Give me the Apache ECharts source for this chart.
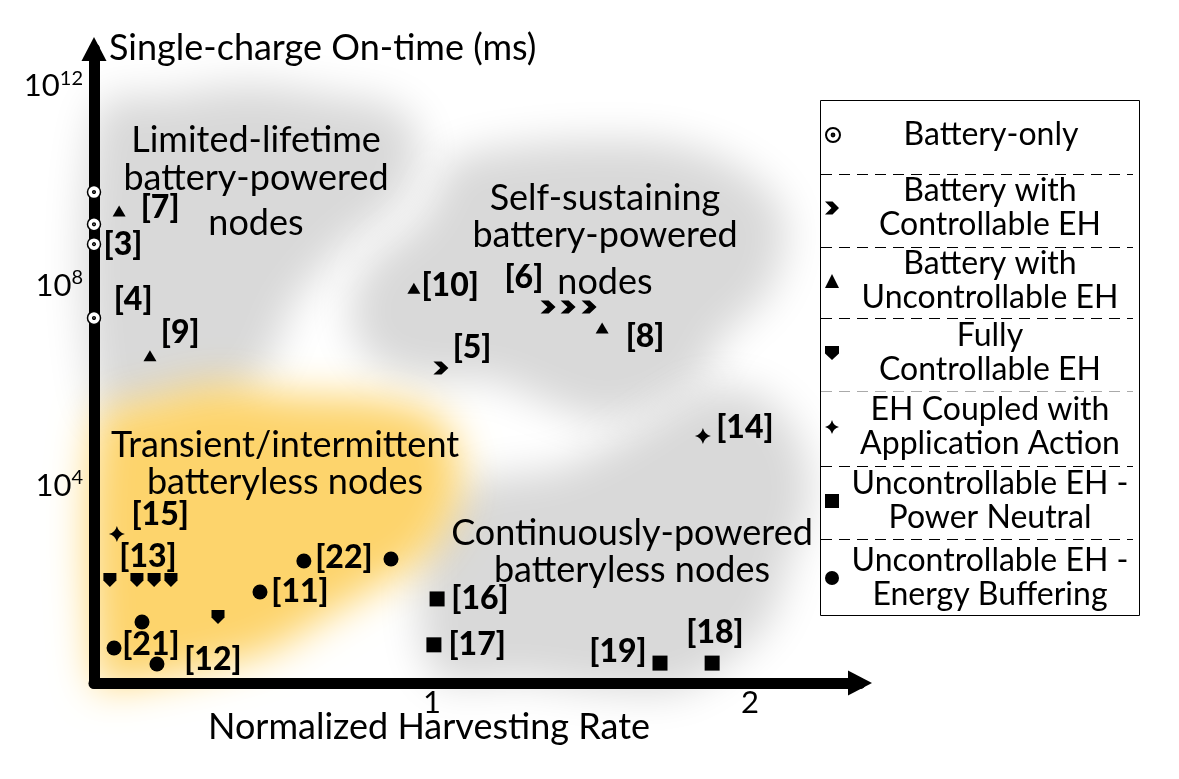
<!DOCTYPE html>
<html><head><meta charset="utf-8">
<script src="https://cdn.jsdelivr.net/npm/echarts@6/dist/echarts.min.js"></script>
<style>html,body{margin:0;padding:0;background:#fff}#c{width:1179px;height:779px}</style>
</head><body><div id="c"></div>
<script>
// ---------- data ----------
const seriesNames = ['Battery-only', 'Battery with Controllable EH', 'Battery with Uncontrollable EH',
  'Fully Controllable EH', 'EH Coupled with Application Action',
  'Uncontrollable EH - Power Neutral', 'Uncontrollable EH - Energy Buffering'];
const legendLines = [['Battery-only'], ['Battery with', 'Controllable EH'], ['Battery with', 'Uncontrollable EH'],
  ['Fully', 'Controllable EH'], ['EH Coupled with', 'Application Action'],
  ['Uncontrollable EH -', 'Power Neutral'], ['Uncontrollable EH -', 'Energy Buffering']];

const batteryOnlyX = [-0.063, -0.063, -0.063, -0.063];
const batteryOnlyY = [6.6e9, 1.5e9, 6.0e8, 2.0e7];
const ctrlEhX = [1.028, 1.365, 1.428, 1.494];
const ctrlEhY = [2e6, 3.3e7, 3.3e7, 3.3e7];
const unctrlEhX = [0.016, 0.113, 0.943, 1.535];
const unctrlEhY = [2.75e9, 3.5e6, 7.9e7, 1.26e7];
const fullyCtrlX = [-0.013, 0.072, 0.126, 0.179, 0.327];
const fullyCtrlY = [115, 115, 115, 115, 21];
const coupledX = [0.009, 1.852];
const coupledY = [955, 8.7e4];
const neutralX = [1.016, 1.006, 1.717, 1.881];
const neutralY = [48, 5.8, 2.5, 2.5];
const bufferX = [0.088, 0.0, 0.135, 0.459, 0.597, 0.871];
const bufferY = [16.6, 5, 2.4, 66, 275, 302];

const citeLabels = ['[7]', '[3]', '[4]', '[9]', '[10]', '[6]', '[8]', '[5]', '[14]', '[15]', '[13]', '[21]', '[12]', '[11]', '[22]', '[16]', '[17]', '[19]', '[18]'];
const citeX = [0.145, 0.028, 0.06, 0.208, 1.057, 1.289, 1.67, 1.126, 1.984, 0.145, 0.107, 0.116, 0.311, 0.585, 0.723, 1.151, 1.142, 1.585, 1.89];
const citeY = [3.2e9, 5.8e8, 4.6e7, 1e7, 8.7e7, 1.26e8, 8.3e6, 5e6, 1.3e5, 2300, 330, 5.8, 2.9, 66, 316, 48, 5.8, 4.2, 10];

const xTickValues = [1, 2];
const yTickValues = [1e4, 1e8, 1e12];

// shaded regions: [x, log10(on-time)] outlines
const regionLimited = [[-0.053, 11.46], [0.176, 11.76], [0.428, 11.96], [0.679, 11.76], [0.899, 11.46], [0.962, 10.66], [0.899, 9.66], [0.742, 8.86], [0.648, 8.26], [0.553, 7.46], [0.491, 6.46], [0.365, 5.66], [0.145, 5.36], [-0.053, 5.46]];
const regionSelf = [[1.057, 10.46], [1.277, 10.76], [1.528, 10.86], [1.78, 10.76], [2.0, 10.16], [2.11, 9.26], [2.063, 7.86], [1.906, 6.86], [1.843, 6.06], [1.686, 5.46], [1.528, 5.26], [1.34, 5.66], [1.182, 6.06], [0.994, 6.06], [0.805, 6.46], [0.742, 7.46], [0.805, 8.46], [0.962, 9.26], [1.025, 10.06]];
const regionContinuous = [[0.994, 3.26], [1.151, 4.06], [1.371, 4.26], [1.528, 4.66], [1.686, 5.26], [1.843, 5.86], [2.031, 5.76], [2.157, 4.86], [2.189, 3.66], [2.126, 2.46], [2.063, 1.26], [1.937, 0.46], [1.78, -0.14], [1.528, -0.14], [1.277, 0.06], [1.025, 0.06], [0.962, 1.26]];
const regionTransient = [[-0.053, 5.26], [0.113, 5.66], [0.333, 5.96], [0.553, 5.76], [0.836, 5.66], [1.025, 5.26], [1.088, 4.26], [1.057, 3.26], [0.962, 2.46], [0.805, 1.86], [0.648, 1.26], [0.491, 0.66], [0.27, 0.26], [0.019, -0.04], [-0.053, -0.04]];
const regions = [regionLimited, regionSelf, regionContinuous, regionTransient];
const regionColors = ['#d9d9d9', '#d9d9d9', '#d9d9d9', '#fdd46c'];

const regionText = ['Limited-lifetime', 'battery-powered', 'nodes', 'Self-sustaining', 'battery-powered', 'nodes',
  'Transient/intermittent', 'batteryless nodes', 'Continuously-powered', 'batteryless nodes'];

// ---------- styling ----------
const FONT = 'Lato';
const OFF = 3000;
const regionTextPos = [[256, 140], [256, 178], [256, 223], [605, 198], [605, 235], [605, 282], [285, 445], [285, 482], [632, 533], [632, 570]];
const legendCenters = [136, 209, 282, 354, 428, 502, 579];
const symbols = [
  'path://M0,-10A10,10 0 1,1 0,10A10,10 0 1,1 0,-10Z M0,-2A2,2 0 1,1 0,2A2,2 0 1,1 0,-2Z',
  'path://M0,0L7,0L13,6L7,12L0,12L6,6Z',
  'triangle',
  'path://M0,0L12,0L12,6.5L6,12L0,6.5Z',
  'path://M6,0Q7.2,4.8 12,6Q7.2,7.2 6,12Q4.8,7.2 0,6Q4.8,4.8 6,0Z',
  'rect',
  'circle'
];
const symbolSizes = [13, [15, 13], [13, 11], [13, 14], 16, 15, 15];
const xs = [batteryOnlyX, ctrlEhX, unctrlEhX, fullyCtrlX, coupledX, neutralX, bufferX];
const ys = [batteryOnlyY, ctrlEhY, unctrlEhY, fullyCtrlY, coupledY, neutralY, bufferY];

const series = [{
  type: 'custom', coordinateSystem: 'cartesian2d', z: 0, silent: true, clip: false,
  data: regions.map(() => [1, 10]),
  renderItem: function (params, api) {
    const i = params.dataIndex;
    const pts = regions[i].map(p => { const c = api.coord([p[0], Math.pow(10, p[1])]); return [c[0] - OFF, c[1]]; });
    return { type: 'polygon', shape: { points: pts, smooth: 0.35 },
      style: { fill: regionColors[i], shadowBlur: 40, shadowColor: regionColors[i], shadowOffsetX: OFF, shadowOffsetY: 0 } };
  }
}];
seriesNames.forEach((n, i) => {
  series.push({
    type: 'scatter', name: n, z: 3, clip: false,
    symbol: symbols[i], symbolSize: symbolSizes[i],
    itemStyle: i === 0 ? { color: '#fff', borderColor: '#000', borderWidth: 1.5, opacity: 1 } : { color: '#000', opacity: 1 },
    data: xs[i].map((x, k) => [x, ys[i][k]])
  });
});
series.push({
  type: 'scatter', name: 'cites', z: 4, clip: false, silent: true,
  symbol: 'circle', symbolSize: 0.1, itemStyle: { color: '#000' },
  label: { show: true, position: 'inside', formatter: p => p.name, fontFamily: FONT, fontWeight: 900, fontSize: 32, color: '#000', textBorderWidth: 0, opacity: 1 },
  data: citeLabels.map((l, k) => ({ name: l, value: [citeX[k], citeY[k]] }))
});

const legends = seriesNames.map((n, i) => ({
  data: [n], orient: 'vertical', left: 825, top: legendCenters[i] - legendLines[i].length * 17,
  padding: 0, itemWidth: 14, itemHeight: 14, itemGap: 0, selectedMode: false, z: 6,
  formatter: () => legendLines[i].map(l => '{t|' + l + '}').join('\n'),
  textStyle: { fontFamily: FONT, fontSize: 32, color: '#000',
    rich: { t: { width: 292, align: 'center', fontFamily: FONT, fontSize: 32, lineHeight: 34, color: '#000' } } }
}));

const sepY = [174, 247, 318, 391, 466, 539];
const graphic = [
  { type: 'rect', z: 5, shape: { x: 820.5, y: 100.5, width: 319, height: 515 }, style: { fill: '#fff', stroke: '#000', lineWidth: 1 } }
].concat(sepY.map((y, k) => ({
  type: 'line', z: 5, shape: { x1: 821, y1: y + 0.5, x2: 1133, y2: y + 0.5 },
  style: { stroke: k === 3 ? '#aaa' : '#000', lineWidth: 1, lineDash: [11, 7] }
}))).concat(regionText.map((t, k) => ({
  type: 'text', z: 2, x: regionTextPos[k][0], y: regionTextPos[k][1],
  style: { text: t, font: '36px ' + FONT, fill: '#000', align: 'center', verticalAlign: 'middle' }
})));

const option = {
  animation: false,
  backgroundColor: '#fff',
  grid: { left: 94, top: 49, width: 766, height: 634, containLabel: false },
  xAxis: {
    type: 'value', min: -0.063, max: 2.346, z: 1,
    name: 'Normalized Harvesting Rate', nameLocation: 'middle', nameGap: 26, nameMoveOverlap: false,
    nameTextStyle: { fontFamily: FONT, fontSize: 36, color: '#000', padding: [0, 96, 0, 0] },
    axisLine: { show: true, onZero: false, symbol: ['none', 'triangle'], symbolSize: [25, 24], lineStyle: { color: '#000', width: 11 } },
    axisTick: { show: false }, splitLine: { show: false },
    axisLabel: { customValues: xTickValues, fontFamily: FONT, fontSize: 31, color: '#000', margin: 4 }
  },
  yAxis: {
    type: 'log', logBase: 10, min: 1, max: 4.8e12, z: 1,
    name: 'Single-charge On-time (ms)', nameLocation: 'end', nameGap: 1, nameMoveOverlap: false,
    nameTextStyle: { fontFamily: FONT, fontSize: 36, color: '#000', align: 'left', verticalAlign: 'middle', padding: [0, 0, 0, 15] },
    axisLine: { show: true, onZero: false, symbol: ['none', 'triangle'], symbolSize: [25, 24], lineStyle: { color: '#000', width: 11 } },
    axisTick: { show: false }, splitLine: { show: false },
    axisLabel: {
      customValues: yTickValues, margin: 11, padding: [6, 0, 0, 0],
      formatter: v => '{b|10}{s|' + Math.round(Math.log10(v)) + '}',
      rich: { b: { fontFamily: FONT, fontSize: 31, lineHeight: 36, color: '#000' },
              s: { fontFamily: FONT, fontSize: 20, lineHeight: 20, verticalAlign: 'top', color: '#000' } }
    }
  },
  legend: legends,
  graphic: graphic,
  series: series
};
const chart = echarts.init(document.getElementById('c'));
chart.setOption(option);
</script></body></html>
